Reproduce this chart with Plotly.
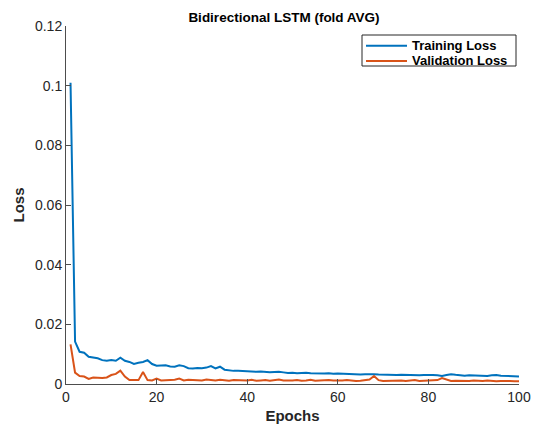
import plotly.graph_objects as go

epochs = list(range(1, 101))

training_loss = [
    0.101, 0.0142, 0.0108, 0.0105, 0.0091, 0.0089, 0.0086, 0.0080, 0.0078, 0.0080,
    0.0078, 0.0088, 0.0078, 0.0074, 0.0067, 0.0071, 0.0074, 0.0080, 0.0067, 0.0061,
    0.0061, 0.0063, 0.0059, 0.0058, 0.0063, 0.0060, 0.0053, 0.0052, 0.0054, 0.0053,
    0.0055, 0.0060, 0.0052, 0.0058, 0.0048, 0.0045, 0.0044, 0.0044, 0.0043, 0.0044,
    0.0042, 0.0041, 0.0042, 0.0040, 0.0039, 0.0040, 0.0041, 0.0039, 0.0037, 0.0038,
    0.0036, 0.0037, 0.0038, 0.0036, 0.0035, 0.0036, 0.0035, 0.0036, 0.0034, 0.0035,
    0.0034, 0.0033, 0.0034, 0.0033, 0.0032, 0.0033, 0.0034, 0.0033, 0.0032, 0.0031,
    0.0032, 0.0031, 0.0030, 0.0031, 0.0030, 0.0031, 0.0030, 0.0029, 0.0030, 0.0031,
    0.0030, 0.0029, 0.0027, 0.0030, 0.0033, 0.0031, 0.0029, 0.0028, 0.0029, 0.0028,
    0.0029, 0.0028, 0.0027, 0.0029, 0.0030, 0.0028, 0.0027, 0.0027, 0.0026, 0.0025,
]

validation_loss = [
    0.0133, 0.0038, 0.0027, 0.0025, 0.0017, 0.0022, 0.0021, 0.0020, 0.0022, 0.0030,
    0.0034, 0.0045, 0.0025, 0.0013, 0.0013, 0.0013, 0.0040, 0.0013, 0.0012, 0.0018,
    0.0012, 0.0013, 0.0012, 0.0014, 0.0018, 0.0012, 0.0014, 0.0013, 0.0011, 0.0012,
    0.0015, 0.0013, 0.0012, 0.0014, 0.0012, 0.0011, 0.0013, 0.0012, 0.0011, 0.0012,
    0.0014, 0.0011, 0.0012, 0.0013, 0.0011, 0.0012, 0.0015, 0.0012, 0.0011, 0.0012,
    0.0013, 0.0011, 0.0012, 0.0014, 0.0011, 0.0012, 0.0011, 0.0013, 0.0012, 0.0011,
    0.0012, 0.0013, 0.0011, 0.0010, 0.0011, 0.0012, 0.0015, 0.0027, 0.0013, 0.0010,
    0.0011, 0.0010, 0.0011, 0.0012, 0.0010, 0.0011, 0.0013, 0.0010, 0.0011, 0.0012,
    0.0011, 0.0013, 0.0020, 0.0016, 0.0010, 0.0011, 0.0010, 0.0011, 0.0010, 0.0012,
    0.0011, 0.0010, 0.0012, 0.0010, 0.0009, 0.0010, 0.0011, 0.0010, 0.0009, 0.0009,
]

series_names = ["Training Loss", "Validation Loss"]
series_colors = ["#0072BD", "#D95319"]

x_ticks = [0, 20, 40, 60, 80, 100]
y_ticks = [0, 0.02, 0.04, 0.06, 0.08, 0.1, 0.12]
y_tick_labels = ["0", "0.02", "0.04", "0.06", "0.08", "0.1", "0.12"]

font_family = "Liberation Sans, Arial, Helvetica, sans-serif"
axis_color = "#4d4d4d"

# page body has an 8px default margin; figure coords are offset by it
W, H = 539, 426
L, R, T, B = 58, 28, 18, 50
PW, PH = W - L - R, H - T - B


def px_x(fx):
    return (fx - L) / PW


def px_y(fy):
    return 1 - (fy - T) / PH


fig = go.Figure()
for name, color, vals in zip(series_names, series_colors,
                             [training_loss, validation_loss]):
    fig.add_trace(go.Scatter(x=epochs, y=vals, mode="lines", name=name,
                             showlegend=False,
                             line=dict(color=color, width=2)))

# MATLAB-style compact legend box (top-right, inside axes)
shapes = [dict(type="rect", xref="paper", yref="paper",
               x0=px_x(354), x1=px_x(508), y0=px_y(58), y1=px_y(27),
               line=dict(color="#262626", width=1), fillcolor="white",
               layer="above")]
annotations = []
row_y = [37.7, 53]
for name, color, ry in zip(series_names, series_colors, row_y):
    shapes.append(dict(type="line", xref="paper", yref="paper",
                       x0=px_x(358), x1=px_x(399), y0=px_y(ry), y1=px_y(ry),
                       line=dict(color=color, width=2), layer="above"))
    annotations.append(dict(xref="paper", yref="paper", x=px_x(402), y=px_y(ry),
                            xanchor="left", yanchor="middle", showarrow=False,
                            text="<b>" + name + "</b>",
                            font=dict(size=13, color="black")))

fig.update_layout(
    width=W, height=H,
    margin=dict(l=L, r=R, t=T, b=B, autoexpand=False),
    paper_bgcolor="white", plot_bgcolor="white",
    font=dict(family=font_family, color="#262626"),
    title=dict(text="<b>Bidirectional LSTM (fold AVG)</b>",
               x=276 / W, xanchor="center",
               y=1 - 9.5 / H, yanchor="middle",
               font=dict(size=13.5, color="black")),
    showlegend=False,
    shapes=shapes,
    annotations=annotations,
)
fig.update_xaxes(range=[0, 100], tickvals=x_ticks, ticks="inside", ticklen=5,
                 tickcolor=axis_color, showline=True, linecolor=axis_color,
                 linewidth=1, showgrid=False, zeroline=False, mirror=False,
                 automargin=False,
                 tickfont=dict(size=14, color="#262626"),
                 title=dict(text="<b>Epochs</b>", font=dict(size=15, color="#262626"),
                            standoff=6))
fig.update_yaxes(range=[0, 0.12], tickvals=y_ticks, ticktext=y_tick_labels,
                 ticks="inside", ticklen=5, tickcolor=axis_color,
                 showline=True, linecolor=axis_color, linewidth=1,
                 showgrid=False, zeroline=False, mirror=False,
                 automargin=False,
                 tickfont=dict(size=14, color="#262626"),
                 title=dict(text="<b>Loss</b>", font=dict(size=15, color="#262626"),
                            standoff=6))

fig.write_html("out.html")
